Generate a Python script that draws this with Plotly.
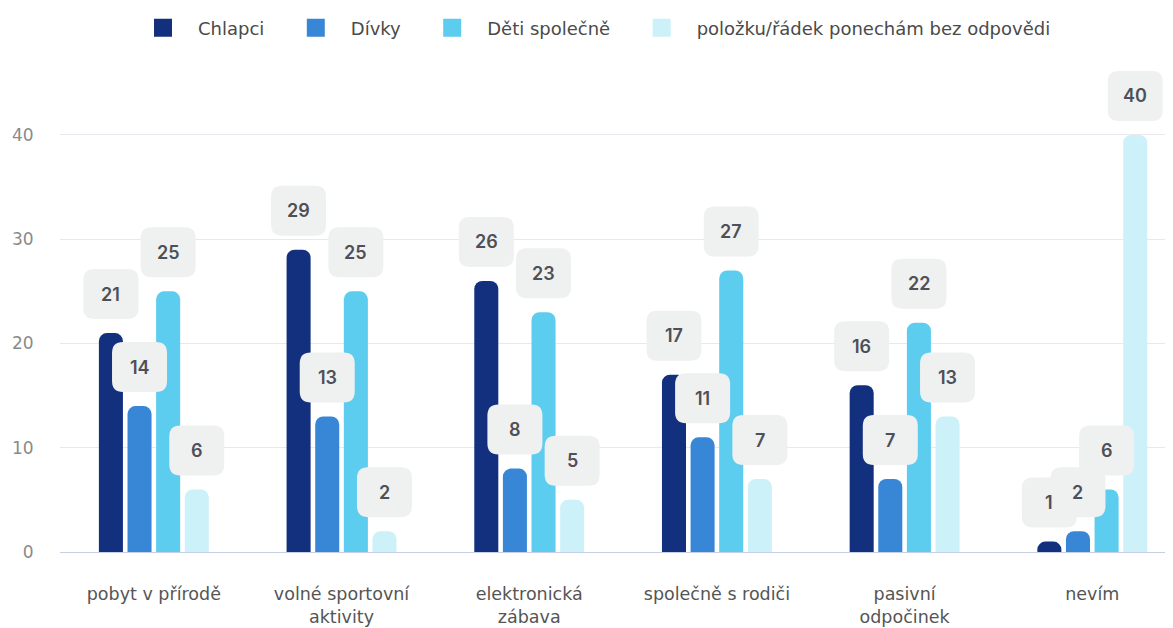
import plotly.graph_objects as go

categories = ["pobyt v přírodě", "volné sportovní<br>aktivity", "elektronická<br>zábava",
              "společně s rodiči", "pasivní<br>odpočinek", "nevím"]
series_names = ["Chlapci", "Dívky", "Děti společně", "položku/řádek ponechám bez odpovědi"]
chlapci = [21, 29, 26, 17, 16, 1]
divky = [14, 13, 8, 11, 7, 2]
deti = [25, 25, 23, 27, 22, 6]
bez_odpovedi = [6, 2, 5, 7, 13, 40]
colors = ["#13307f", "#3887d7", "#5dcdef", "#ccf1f9"]
y_ticks = [0, 10, 20, 30, 40]

series = [chlapci, divky, deti, bez_odpovedi]
bargap = 0.39
n = len(series)
slot = (1 - bargap) / n
xs = list(range(len(categories)))

# page body has an 8px margin -> figure slightly smaller than the window
FW, FH = 1165, 620

fig = go.Figure()
for name, vals, c in zip(series_names, series, colors):
    fig.add_trace(go.Bar(x=xs, y=vals, name=name, marker=dict(color=c, line_width=0),
                         hoverinfo="skip", showlegend=False, legendgroup=name))
# legend entries with larger symbols
for j, (name, c) in enumerate(zip(series_names, colors)):
    pad = "\u00a0\u00a0" if j < len(series_names) - 1 else ""
    fig.add_trace(go.Scatter(x=[None], y=[None], mode="markers", name=name + pad,
                             legendgroup=name,
                             marker=dict(symbol="square", size=16, color=c,
                                         line=dict(width=2, color=c))))

W, H, R = 55, 50, 11
def rounded_path(w, h, r, d):
    x0, x1 = -w / 2, w / 2
    y0, y1 = d - h / 2, d + h / 2
    return (f"M{x0+r},{y0} L{x1-r},{y0} Q{x1},{y0} {x1},{y0+r} L{x1},{y1-r} "
            f"Q{x1},{y1} {x1-r},{y1} L{x0+r},{y1} Q{x0},{y1} {x0},{y1-r} "
            f"L{x0},{y0+r} Q{x0},{y0} {x0+r},{y0} Z")

shapes, annotations = [], []
for k in xs:
    for i, vals in enumerate(series):
        xc = k + (i - (n - 1) / 2) * slot
        v = vals[k]
        shapes.append(dict(type="path", xref="x", yref="y", xsizemode="pixel", ysizemode="pixel",
                           xanchor=xc, yanchor=v, path=rounded_path(W, H, R, 39),
                           fillcolor="#eff0f0", line=dict(width=0), layer="above"))
        annotations.append(dict(x=xc, y=v, xref="x", yref="y", text=str(v), showarrow=False,
                                yshift=39, font=dict(family="Inter", size=18, color="#4d5058", weight=600)))

fig.update_layout(
    width=FW, height=FH,
    paper_bgcolor="white", plot_bgcolor="white",
    margin=dict(l=52, r=0, t=54, b=76),
    barmode="group", bargap=bargap, bargroupgap=0.16, barcornerradius=8,
    font=dict(family="DejaVu Sans", color="#555555"),
    showlegend=True,
    legend=dict(orientation="h", x=0.478, xanchor="center", yref="container", y=1 - 20 / FH,
                yanchor="middle", font=dict(size=18, color="#4a4a4a"), itemwidth=60,
                traceorder="normal"),
    shapes=shapes, annotations=annotations,
)
fig.update_xaxes(range=[-0.5, 5.43], tickvals=xs, ticktext=categories, showgrid=False,
                 zeroline=False, showline=False, ticks="outside", ticklen=26, automargin=False,
                 tickcolor="rgba(0,0,0,0)", tickfont=dict(size=17.5, color="#555555"))
fig.update_yaxes(range=[0, 47], tickvals=y_ticks, showgrid=True, gridcolor="#e8e8ee", gridwidth=1,
                 zeroline=True, zerolinecolor="#c9cfe2", zerolinewidth=1, showline=False,
                 ticks="outside", ticklen=22, tickcolor="rgba(0,0,0,0)", automargin=False,
                 tickfont=dict(size=17, color="#8a8a8a"))

fig.write_html("out.html")
